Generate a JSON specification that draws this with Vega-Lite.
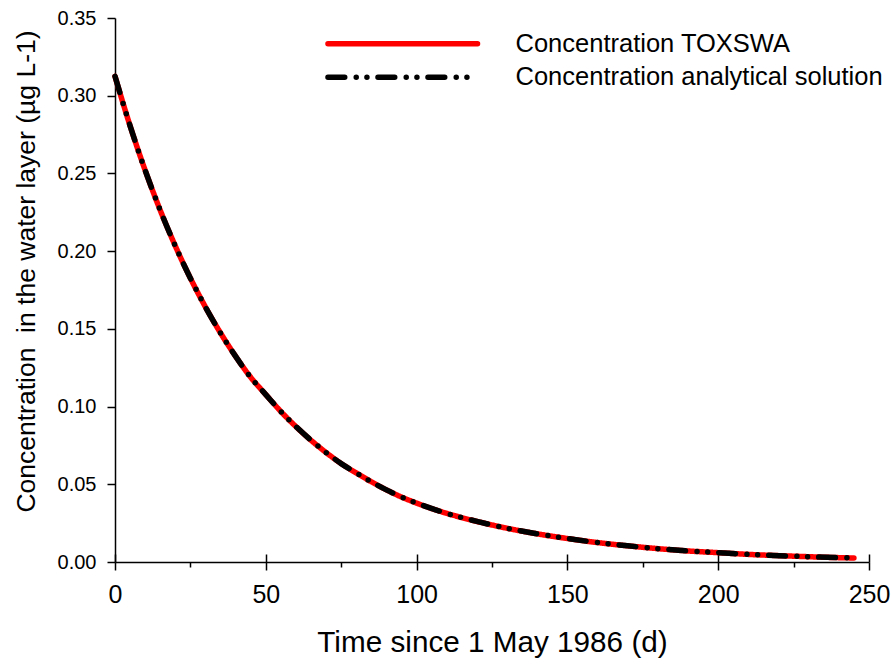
{
  "$schema": "https://vega.github.io/schema/vega-lite/v6.json",
  "width": 754,
  "height": 544,
  "autosize": "none",
  "padding": {"left": 115, "top": 18, "right": 23, "bottom": 102},
  "background": "white",
  "config": {
    "view": {"stroke": null},
    "font": "Liberation Sans",
    "axis": {"domainColor": "black", "domainWidth": 1.5, "tickColor": "black", "tickWidth": 1.5, "labelColor": "black", "titleColor": "black", "labelFont": "Liberation Sans", "titleFont": "Liberation Sans", "titleFontWeight": "normal", "grid": false},
    "legend": {"title": null, "orient": "none", "legendX": 275, "legendY": 13, "symbolType": "M-15,0H15", "symbolSize": 99.4, "symbolStrokeWidth": 5.5, "labelFontSize": 25.5, "labelFont": "Liberation Sans", "labelColor": "black", "labelOffset": 100, "labelLimit": 0, "rowPadding": 6.5, "padding": 0}
  },
  "data": {"values": [
    {"t": 0, "c": 0.3125, "series": "Concentration TOXSWA"},
    {"t": 5, "c": 0.2806, "series": "Concentration TOXSWA"},
    {"t": 10, "c": 0.2520, "series": "Concentration TOXSWA"},
    {"t": 15, "c": 0.2263, "series": "Concentration TOXSWA"},
    {"t": 20, "c": 0.2033, "series": "Concentration TOXSWA"},
    {"t": 25, "c": 0.1826, "series": "Concentration TOXSWA"},
    {"t": 30, "c": 0.1640, "series": "Concentration TOXSWA"},
    {"t": 35, "c": 0.1473, "series": "Concentration TOXSWA"},
    {"t": 40, "c": 0.1323, "series": "Concentration TOXSWA"},
    {"t": 45, "c": 0.1188, "series": "Concentration TOXSWA"},
    {"t": 50, "c": 0.1077, "series": "Concentration TOXSWA"},
    {"t": 55, "c": 0.0968, "series": "Concentration TOXSWA"},
    {"t": 60, "c": 0.0871, "series": "Concentration TOXSWA"},
    {"t": 65, "c": 0.0783, "series": "Concentration TOXSWA"},
    {"t": 70, "c": 0.0704, "series": "Concentration TOXSWA"},
    {"t": 75, "c": 0.0633, "series": "Concentration TOXSWA"},
    {"t": 80, "c": 0.0573, "series": "Concentration TOXSWA"},
    {"t": 85, "c": 0.0516, "series": "Concentration TOXSWA"},
    {"t": 90, "c": 0.0464, "series": "Concentration TOXSWA"},
    {"t": 95, "c": 0.0418, "series": "Concentration TOXSWA"},
    {"t": 100, "c": 0.0379, "series": "Concentration TOXSWA"},
    {"t": 110, "c": 0.0313, "series": "Concentration TOXSWA"},
    {"t": 120, "c": 0.0261, "series": "Concentration TOXSWA"},
    {"t": 130, "c": 0.0217, "series": "Concentration TOXSWA"},
    {"t": 140, "c": 0.0181, "series": "Concentration TOXSWA"},
    {"t": 150, "c": 0.0151, "series": "Concentration TOXSWA"},
    {"t": 160, "c": 0.0125, "series": "Concentration TOXSWA"},
    {"t": 170, "c": 0.0104, "series": "Concentration TOXSWA"},
    {"t": 180, "c": 0.0086, "series": "Concentration TOXSWA"},
    {"t": 190, "c": 0.0071, "series": "Concentration TOXSWA"},
    {"t": 200, "c": 0.0060, "series": "Concentration TOXSWA"},
    {"t": 210, "c": 0.0049, "series": "Concentration TOXSWA"},
    {"t": 220, "c": 0.0041, "series": "Concentration TOXSWA"},
    {"t": 230, "c": 0.0034, "series": "Concentration TOXSWA"},
    {"t": 240, "c": 0.0028, "series": "Concentration TOXSWA"},
    {"t": 245, "c": 0.0026, "series": "Concentration TOXSWA"},
    {"t": 0, "c": 0.3125, "series": "Concentration analytical solution"},
    {"t": 5, "c": 0.2806, "series": "Concentration analytical solution"},
    {"t": 10, "c": 0.2520, "series": "Concentration analytical solution"},
    {"t": 15, "c": 0.2263, "series": "Concentration analytical solution"},
    {"t": 20, "c": 0.2033, "series": "Concentration analytical solution"},
    {"t": 25, "c": 0.1826, "series": "Concentration analytical solution"},
    {"t": 30, "c": 0.1640, "series": "Concentration analytical solution"},
    {"t": 35, "c": 0.1473, "series": "Concentration analytical solution"},
    {"t": 40, "c": 0.1323, "series": "Concentration analytical solution"},
    {"t": 45, "c": 0.1188, "series": "Concentration analytical solution"},
    {"t": 50, "c": 0.1077, "series": "Concentration analytical solution"},
    {"t": 55, "c": 0.0968, "series": "Concentration analytical solution"},
    {"t": 60, "c": 0.0871, "series": "Concentration analytical solution"},
    {"t": 65, "c": 0.0783, "series": "Concentration analytical solution"},
    {"t": 70, "c": 0.0704, "series": "Concentration analytical solution"},
    {"t": 75, "c": 0.0633, "series": "Concentration analytical solution"},
    {"t": 80, "c": 0.0573, "series": "Concentration analytical solution"},
    {"t": 85, "c": 0.0516, "series": "Concentration analytical solution"},
    {"t": 90, "c": 0.0464, "series": "Concentration analytical solution"},
    {"t": 95, "c": 0.0418, "series": "Concentration analytical solution"},
    {"t": 100, "c": 0.0379, "series": "Concentration analytical solution"},
    {"t": 110, "c": 0.0313, "series": "Concentration analytical solution"},
    {"t": 120, "c": 0.0261, "series": "Concentration analytical solution"},
    {"t": 130, "c": 0.0217, "series": "Concentration analytical solution"},
    {"t": 140, "c": 0.0181, "series": "Concentration analytical solution"},
    {"t": 150, "c": 0.0151, "series": "Concentration analytical solution"},
    {"t": 160, "c": 0.0125, "series": "Concentration analytical solution"},
    {"t": 170, "c": 0.0104, "series": "Concentration analytical solution"},
    {"t": 180, "c": 0.0086, "series": "Concentration analytical solution"},
    {"t": 190, "c": 0.0071, "series": "Concentration analytical solution"},
    {"t": 200, "c": 0.0060, "series": "Concentration analytical solution"},
    {"t": 210, "c": 0.0049, "series": "Concentration analytical solution"},
    {"t": 220, "c": 0.0041, "series": "Concentration analytical solution"},
    {"t": 230, "c": 0.0034, "series": "Concentration analytical solution"},
    {"t": 240, "c": 0.0028, "series": "Concentration analytical solution"},
    {"t": 245, "c": 0.0026, "series": "Concentration analytical solution"}
  ]},
  "layer": [
    {
      "transform": [{"filter": "datum.series == 'Concentration TOXSWA'"}],
      "mark": {"type": "line", "strokeWidth": 5.5, "strokeCap": "round", "strokeJoin": "round", "interpolate": "monotone"},
      "encoding": {
        "x": {"field": "t", "type": "quantitative", "scale": {"domain": [0, 250], "nice": false, "zero": false},
          "axis": {"orient": "bottom", "title": "Time since 1 May 1986 (d)", "titleFontSize": 29.7, "titlePadding": 21,
            "values": [0, 25, 50, 75, 100, 125, 150, 175, 200, 225, 250],
            "labelExpr": "datum.value % 50 == 0 ? datum.label : ''",
            "tickSize": {"condition": {"test": "datum.value % 50 == 0", "value": 8}, "value": 5},
            "labelFontSize": 25, "labelPadding": 12, "labelFlush": false}},
        "y": {"field": "c", "type": "quantitative", "scale": {"domain": [0, 0.35], "nice": false},
          "axis": {"title": "Concentration\u00a0 in the water layer (µg L-1)", "titleFontSize": 26.5, "titlePadding": 17, "titleY": 253,
            "values": [0, 0.05, 0.1, 0.15, 0.2, 0.25, 0.3, 0.35], "format": ".2f", "tickSize": 8,
            "labelFontSize": 20, "labelPadding": 11, "labelFlush": false}},
        "color": {"field": "series", "type": "nominal",
          "scale": {"domain": ["Concentration TOXSWA", "Concentration analytical solution"], "range": ["#ff0000", "#000000"]},
          "legend": {"encode": {"symbols": {"update": {"strokeCap": {"value": "round"}}}}}},
        "strokeDash": {"field": "series", "type": "nominal",
          "scale": {"domain": ["Concentration TOXSWA", "Concentration analytical solution"], "range": [[1, 0], [16.75, 11.5, 0, 10.7, 0, 11.05]]},
          "legend": {"encode": {"symbols": {"update": {"strokeCap": {"value": "round"}}}}}}
      }
    },
    {
      "transform": [{"filter": "datum.series == 'Concentration analytical solution'"}],
      "mark": {"type": "line", "strokeWidth": 5.5, "strokeCap": "round", "strokeJoin": "round", "interpolate": "monotone"},
      "encoding": {
        "x": {"field": "t", "type": "quantitative",
          "axis": {"orient": "bottom", "title": null, "labels": false, "domain": false,
            "values": [0, 50, 100, 150, 200, 250], "tickSize": -8}},
        "y": {"field": "c", "type": "quantitative"},
        "color": {"field": "series", "type": "nominal"},
        "strokeDash": {"field": "series", "type": "nominal"}
      }
    }
  ],
  "resolve": {"axis": {"x": "independent"}}
}
